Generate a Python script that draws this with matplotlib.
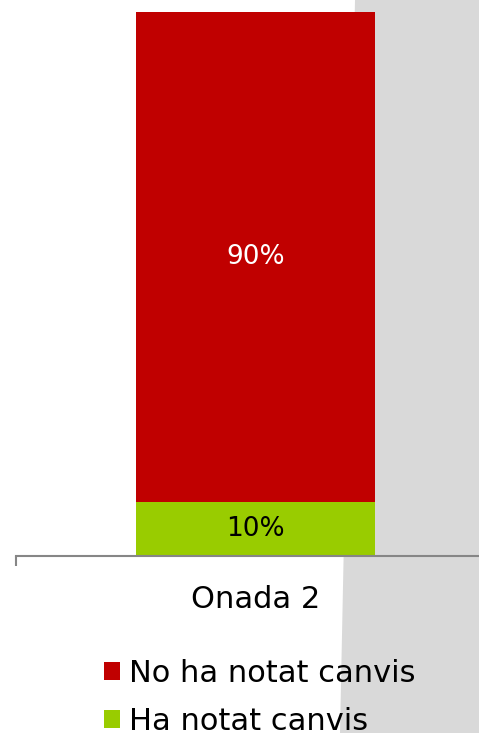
import matplotlib.pyplot as plt
from matplotlib.patches import Polygon
import numpy as np

# data
categories = ["Onada 2"]
ha_notat = [10]
no_ha_notat = [90]
series_names = ["No ha notat canvis", "Ha notat canvis"]

red = "#C00000"
green = "#99CC00"
axis_grey = "#868686"

plt.rcParams['font.family'] = ['DejaVu Sans']

fig = plt.figure(figsize=(4.79, 7.33), dpi=100)

# grey slide background on the right side
W, H = 479.0, 733.0
bg = Polygon([(355 / W, 1.0), (1.0, 1.0), (1.0, 0.0), (340 / W, 0.0)],
             closed=True, transform=fig.transFigure, facecolor="#D9D9D9",
             edgecolor="none", zorder=-5)
fig.patches.append(bg)

ax = fig.add_axes([16 / W, (H - 556) / H, (495 - 16) / W, (556 - 12) / H])
ax.set_zorder(1)
ax.patch.set_alpha(0)

x = np.arange(len(categories))
b1 = ax.bar(x, ha_notat, width=0.5, color=green, label=series_names[1], zorder=2)
b2 = ax.bar(x, no_ha_notat, width=0.5, bottom=ha_notat, color=red,
            label=series_names[0], zorder=2)

for i in range(len(categories)):
    ax.text(x[i], ha_notat[i] / 2, f"{ha_notat[i]}%", ha="center", va="center",
            fontsize=19, color="black")
    ax.text(x[i], ha_notat[i] + no_ha_notat[i] / 2, f"{no_ha_notat[i]}%",
            ha="center", va="center", fontsize=19, color="white")

ax.set_xlim(-0.5, 0.5)
ax.set_ylim(0, 100)
ax.set_yticks([])
for s in ["top", "right", "left"]:
    ax.spines[s].set_visible(False)
ax.spines["bottom"].set_color(axis_grey)
ax.spines["bottom"].set_linewidth(1.5)

ax.set_xticks(x)
ax.set_xticklabels(categories, fontsize=22)
ax.tick_params(axis="x", length=0, pad=21)
ax.set_xticks([-0.5], minor=True)
ax.tick_params(axis="x", which="minor", length=7, width=1.5, color=axis_grey,
               direction="out")

fig.legend([b2, b1], series_names, loc="upper left",
           bbox_to_anchor=(104 / W, 1 - 659 / H), frameon=False, fontsize=22,
           handlelength=0.52, handleheight=0.52, handletextpad=0.3,
           labelspacing=0.62, borderaxespad=0, borderpad=0)

fig.savefig("out.png", dpi=100)
